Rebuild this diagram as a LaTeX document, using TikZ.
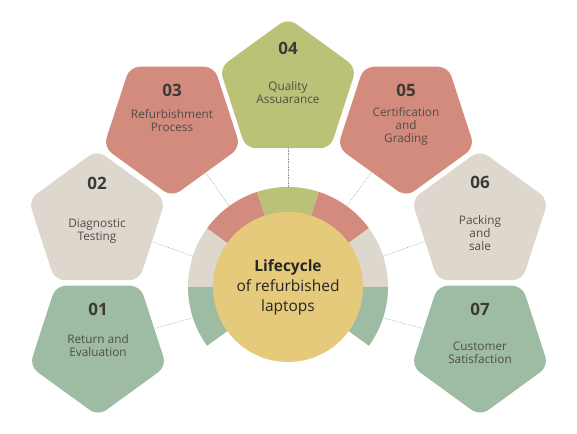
\documentclass[tikz,border=0pt]{standalone}
\usepackage{fontspec}
\setmainfont{Open Sans}
\usepackage{tikz}
\usetikzlibrary{shapes.geometric}
\definecolor{sage}{HTML}{9EBCA3}
\definecolor{stone}{HTML}{DED7CE}
\definecolor{clay}{HTML}{D38B7E}
\definecolor{olive}{HTML}{BBC177}
\definecolor{sand}{HTML}{E5CA7B}
\definecolor{numc}{HTML}{3C3A36}
\definecolor{lblc}{HTML}{524D48}

\begin{document}
\begin{tikzpicture}[x=1pt, y=1pt,
  penta/.style={regular polygon, regular polygon sides=5, minimum size=144pt, inner sep=0pt, rounded corners=10pt},
  down/.style={shape border rotate=180},
  num/.style={font=\bfseries\fontsize{17}{17}\selectfont, text=numc},
  lbl/.style={align=center, font=\fontsize{11.8}{13}\selectfont, text=lblc},
  link/.style={gray!85, line width=0.5pt, dash pattern=on 0.6pt off 1pt}]
  \useasboundingbox (0,0) rectangle (577,433);
  \coordinate (mid) at (288,146);
  % pentagons round the hub
  \node[penta, down, fill=sage]  (s1) at (98,89) {};
  \node[penta, fill=stone]       (s2) at (97,211) {};
  \node[penta, down, fill=clay]  (s3) at (172,308) {};
  \node[penta, fill=olive]       (s4) at (288,343) {};
  \node[penta, down, fill=clay]  (s5) at (406,308) {};
  \node[penta, fill=stone]       (s6) at (480,211) {};
  \node[penta, down, fill=sage]  (s7) at (480,89) {};
  % numbers and labels
  \node[num] (n1) at ([yshift=35pt]s1.center) {01};
  \node[lbl] (t1) at ([yshift=-1.5pt]s1.center) {Return and\\Evaluation};
  \node[num] (n2) at ([yshift=39pt]s2.center) {02};
  \node[lbl] (t2) at ([yshift=-9.5pt]s2.center) {Diagnostic\\Testing};
  \node[num] (n3) at ([yshift=35pt]s3.center) {03};
  \node[lbl] (t3) at ([yshift=4.5pt]s3.center) {Refurbishment\\Process};
  \node[num] (n4) at ([yshift=42pt]s4.center) {04};
  \node[lbl] (t4) at ([yshift=-2.5pt]s4.center) {Quality\\Assuarance};
  \node[num] (n5) at ([yshift=35pt]s5.center) {05};
  \node[lbl] (t5) at ([yshift=-1pt]s5.center) {Certification\\and\\Grading};
  \node[num] (n6) at ([yshift=40pt]s6.center) {06};
  \node[lbl] (t6) at ([yshift=-11pt]s6.center) {Packing\\and\\sale};
  \node[num] (n7) at ([yshift=35pt]s7.center) {07};
  \node[lbl] (t7) at ([yshift=-8.5pt]s7.center) {Customer\\Satisfaction};
  % dotted links from the ring
  \foreach \ang [count=\i] in {198,162,126,90,54,18,-18}
    \path (mid) ++(\ang:100) coordinate (r\i);
  \foreach \i in {1,...,7}
    \draw[link] (r\i) -- (s\i);
  % ring segments
  \foreach \a/\b/\c in {216/180/sage, 180/144/stone, 144/108/clay, 108/72/olive, 72/36/clay, 36/0/stone, 0/-36/sage}
    \fill[\c] (mid) -- ++(\a:100) arc[start angle=\a, end angle=\b, radius=100] -- cycle;
  \node[circle, fill=sand, minimum size=150pt, inner sep=0pt, align=center, text=black!85,
        font=\fontsize{15.5}{20}\selectfont] (hub) at (mid) {\textbf{Lifecycle}\\of refurbished\\laptops};
\end{tikzpicture}
\end{document}
